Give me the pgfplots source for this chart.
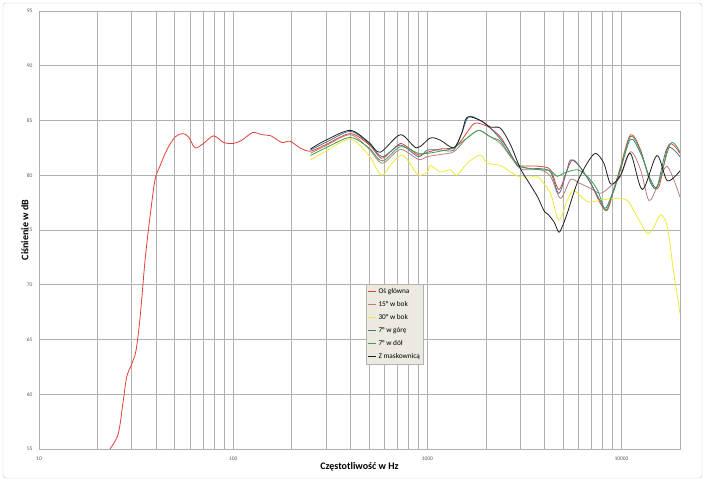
\documentclass[border=0pt]{standalone}
\usepackage{pgfplots}
\pgfplotsset{compat=1.18}
\usepackage{fontspec}
\setmainfont{Carlito}
\definecolor{cRed}{RGB}{224,64,56}
\definecolor{cMauve}{RGB}{185,125,125}
\definecolor{cYel}{RGB}{240,234,50}
\definecolor{cBlue}{RGB}{75,115,140}
\definecolor{cGreen}{RGB}{60,160,80}
\definecolor{cBlack}{RGB}{30,30,30}
\definecolor{cLeg}{RGB}{236,234,224}
\begin{document}
\begin{tikzpicture}[x=1pt,y=1pt]
\path[use as bounding box] (0,0) rectangle (705,481);
\draw[gray!45, rounded corners=3pt] (3,3) rectangle (702,478);
\begin{axis}[
  at={(39pt,32pt)}, anchor=south west, scale only axis,
  width=641pt, height=438pt,
  xmode=log, xmin=10, xmax=20000, ymin=55, ymax=95,
  log basis x=10,
  xtick={10,100,1000,10000}, xticklabels={10,100,1000,10000},
  minor xtick={20,30,40,50,60,70,80,90,200,300,400,500,600,700,800,900,2000,3000,4000,5000,6000,7000,8000,9000},
  ytick={55,60,65,70,75,80,85,90,95},
  grid=both,
  major grid style={gray!62, line width=0.5pt},
  minor grid style={gray!62, line width=0.5pt},
  axis line style={gray!62, line width=0.5pt},
  tick style={draw=none},
  /pgf/number format/assume math mode=true,
  ticklabel style={font=\fontsize{5.5}{6}\selectfont, text=black!65},
  xticklabel style={yshift=-4pt},
  yticklabel style={xshift=-3pt},
  xlabel={\textbf{Częstotliwość w Hz}},
  ylabel={\textbf{Ciśnienie w dB}},
  label style={font=\fontsize{10}{12}\selectfont},
  xlabel style={at={(axis description cs:0.5,-0.041)}, anchor=center},
  ylabel style={at={(axis description cs:-0.022,0.5)}, anchor=center},
  legend style={at={(rel axis cs:0.510,0.377)}, anchor=north west,
    fill=cLeg, draw=gray!60, font=\fontsize{7.3}{8.5}\selectfont,
    row sep=2.4pt, inner xsep=1.5pt, inner ysep=2.5pt},
  legend cell align=left,
  legend image code/.code={\draw[#1, line width=0.9pt] (0pt,0pt) -- (8pt,0pt);},
  every axis plot/.append style={line width=0.8pt, smooth, tension=0.5, no markers},
]
% Oś główna
\addplot[cRed] coordinates {
(23.2,55) (25.6,56.4) (27.2,59.5) (28.3,61.6) (30.1,62.8) (31.6,64.0) (33.2,67.1) (35.2,72.3) (37.3,76.2) (39.6,79.6) (42.1,80.9) (45.5,82.3) (50.2,83.5) (55.1,83.8) (58.9,83.5) (63.7,82.5) (70.3,82.9) (79.2,83.6) (89.2,83.0) (100,82.9) (110.8,83.2) (126,83.9) (140.6,83.7) (156.4,83.6) (178,83.0) (196.7,83.1) (221,82.5) (250,82.2)
(300,82.8) (401,83.8) (500,82.8) (580,81.55) (650,82.2) (726,82.9) (800,82.5) (899,81.85) (1000,82.1) (1167,82.4) (1366,82.5) (1500,83.2) (1733,84.7) (1951,84.6) (2112,84.3) (2378,83.5) (2576,82.5) (2900,80.9) (3016,80.85) (3400,80.85) (3824,80.8) (4306,80.5) (4752,78.7) (5200,80.3) (5570,81.4) (6025,80.9) (6918,79.3) (7795,77.4) (8438,76.8) (9128,78.7) (9880,80.8) (11130,83.7) (12530,82.3) (14110,79.3) (15570,78.95) (17530,82.8) (20000,82.0)
};
\addlegendentry{Oś główna}
% 15 w bok
\addplot[cMauve] coordinates {
(250,82.0) (300,82.7) (401,83.7) (500,82.4) (586,81.1) (726,82.35) (899,81.45) (1000,81.7) (1167,81.9) (1366,82.15) (1602,83.4) (1838,84.1) (2031,83.7) (2378,82.9) (2678,81.7) (3016,80.6) (3400,80.5) (3824,80.5) (4306,79.9) (4850,77.9) (5458,79.6) (6025,79.3) (6918,78.8) (7795,78.35) (8774,79.0) (9880,79.9) (11130,82.15) (12530,80.5) (13830,77.7) (15280,79.0) (17200,80.8) (20000,78.0)
};
\addlegendentry{15° w bok}
% 30 w bok
\addplot[cYel] coordinates {
(250,81.4) (300,82.2) (401,83.3) (500,81.8) (580,80.0) (650,81.0) (740,81.85) (820,81.0) (899,80.0) (1000,80.3) (1036,80.9) (1167,80.3) (1314,80.5) (1422,80.0) (1602,81.1) (1876,81.85) (2031,81.1) (2378,80.9) (2678,80.3) (3016,79.85) (3677,79.85) (3824,79.6) (4306,78.35) (4752,75.9) (5248,77.7) (5675,78.6) (6653,77.6) (7795,77.7) (9128,77.9) (10700,77.7) (12050,76.2) (13570,74.7) (14620,75.2) (15890,76.4) (17200,75.3) (18600,71.0) (20000,67.4)
};
\addlegendentry{30° w bok}
% 7 w gore
\addplot[cBlue] coordinates {
(250,82.3) (300,83.0) (401,84.0) (500,82.9) (586,81.7) (726,82.75) (899,81.7) (1000,82.3) (1167,82.3) (1366,82.3) (1500,83.8) (1633,85.35) (1876,85.0) (2112,84.3) (2378,83.3) (2576,82.5) (2900,80.9) (3016,80.8) (3400,80.6) (3824,80.6) (4306,80.3) (4752,78.35) (5200,80.3) (5458,81.4) (6025,80.9) (6918,79.3) (7795,77.6) (8272,77.0) (9128,78.6) (9880,80.5) (11130,83.3) (12530,82.0) (14110,79.6) (15280,79.0) (17200,82.5) (20000,81.7)
};
\addlegendentry{7° w górę}
% 7 w dol
\addplot[cGreen] coordinates {
(250,81.8) (300,82.5) (401,83.45) (500,82.5) (586,81.3) (726,82.6) (899,82.0) (1000,82.0) (1167,82.2) (1366,82.5) (1602,83.4) (1838,84.1) (2112,83.5) (2378,83.1) (2678,81.8) (3016,80.8) (3400,80.6) (3824,80.5) (4306,80.4) (4663,79.9) (5043,80.2) (5908,80.5) (6653,79.9) (7494,78.7) (8272,76.8) (8954,78.35) (9880,80.6) (11130,83.55) (12530,82.2) (14110,79.4) (15280,78.95) (17890,82.9) (20000,82.1)
};
\addlegendentry{7° w dół}
% Z maskownica
\addplot[cBlack] coordinates {
(250,82.4) (300,83.2) (401,84.1) (500,83.0) (572,82.1) (726,83.7) (880,82.5) (1036,83.4) (1167,83.2) (1366,82.5) (1500,83.8) (1602,85.3) (1876,85.0) (2112,84.4) (2378,84.3) (2678,82.8) (3016,80.6) (3396,79.1) (3700,78.0) (4000,76.7) (4200,76.4) (4500,75.7) (4752,74.8) (4948,75.3) (5248,76.5) (5908,79.3) (6653,81.1) (7345,82.0) (8106,81.1) (8800,79.2) (9880,80.0) (11100,82.0) (12800,78.7) (15200,81.8) (17200,79.5) (20000,80.4)
};
\addlegendentry{Z maskownicą}
\end{axis}
\end{tikzpicture}
\end{document}
